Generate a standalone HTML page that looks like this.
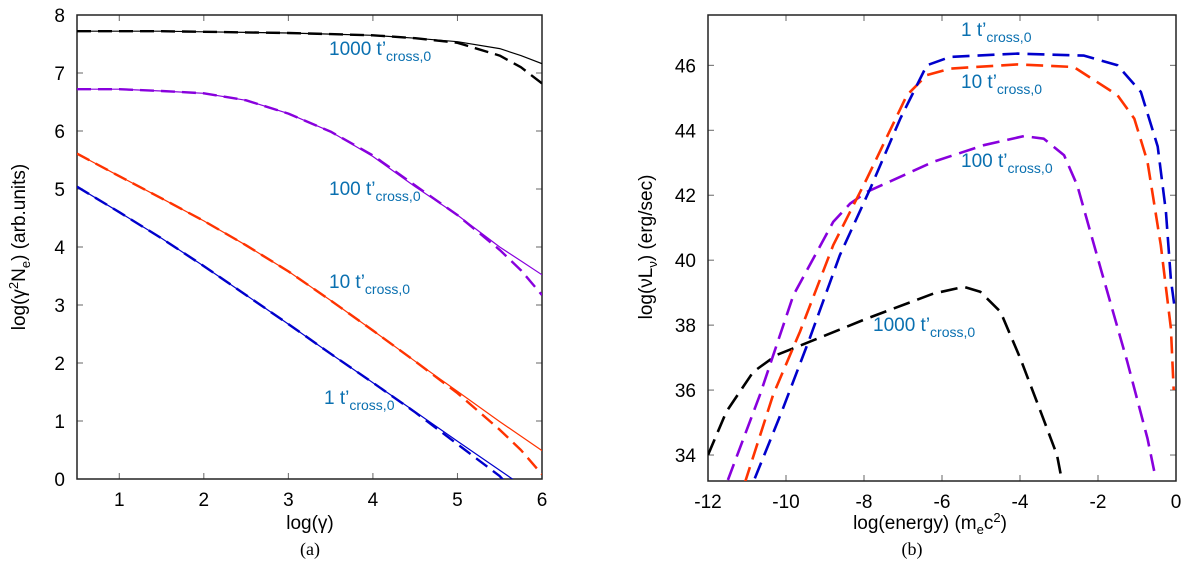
<!DOCTYPE html>
<html><head><meta charset="utf-8"><style>
html,body{margin:0;padding:0;background:#fff}
svg{display:block;font-family:"Liberation Sans",sans-serif}
</style></head><body>
<svg id="c" width="1200" height="573" viewBox="0 0 1200 573"></svg>
<script>
// Left panel data
const gX = [0.5,1,1.5,2,2.5,3,3.5,4,4.5,5,5.5,5.75,6];
const blackSolid = [7.72,7.72,7.72,7.71,7.70,7.69,7.67,7.65,7.6,7.54,7.42,7.3,7.16];
const blackDash  = [7.72,7.72,7.72,7.71,7.70,7.69,7.67,7.65,7.6,7.52,7.3,7.1,6.82];
const purpleSolid= [6.72,6.72,6.69,6.65,6.53,6.3,5.99,5.56,5.04,4.55,4.0,3.76,3.52];
const purpleDash = [6.72,6.72,6.69,6.65,6.53,6.3,5.99,5.58,5.06,4.55,3.95,3.6,3.17];
const redSolid   = [5.61,5.22,4.84,4.45,4.03,3.58,3.08,2.56,2.03,1.51,0.99,0.74,0.49];
const redDash    = [5.61,5.22,4.84,4.45,4.03,3.58,3.08,2.56,2.03,1.48,0.85,0.5,0.08];
const blueSolid  = [5.04,4.6,4.15,3.67,3.17,2.67,2.16,1.66,1.16,0.65,0.15,-0.1,-0.35];
const blueDash   = [5.04,4.6,4.15,3.67,3.17,2.67,2.16,1.66,1.15,0.6,0.05,-0.35,-0.75];
const leftXTicks = [1,2,3,4,5,6];
const leftYTicks = [0,1,2,3,4,5,6,7,8];
// Right panel data
const bluePts   = [[-10.8,33.28],[-10.11,35.33],[-9.39,37.6],[-8.62,40.15],[-7.84,42.2],[-7.07,44.36],[-6.39,46.0],[-5.79,46.26],[-4.07,46.36],[-2.36,46.3],[-1.5,46.0],[-0.9,45.18],[-0.47,43.5],[-0.26,41.5],[-0.13,39.4],[-0.03,38.5]];
const redPts    = [[-11.06,33.13],[-10.33,35.85],[-9.64,37.8],[-8.79,40.46],[-7.93,42.5],[-6.9,45.08],[-6.39,45.7],[-5.79,45.9],[-4.07,46.03],[-2.62,45.95],[-1.5,45.08],[-1.07,44.36],[-0.73,43.03],[-0.39,40.46],[-0.13,37.9],[-0.06,36.0]];
const purplePts = [[-11.49,33.23],[-10.67,35.85],[-9.81,38.92],[-8.79,41.18],[-8.36,41.74],[-7.93,42.1],[-6.22,43.03],[-4.93,43.54],[-3.9,43.82],[-3.39,43.74],[-2.87,43.23],[-2.53,42.3],[-1.93,39.74],[-1.25,36.87],[-0.73,34.51],[-0.52,33.28]];
const blackPts  = [[-12,34.0],[-11.53,35.33],[-10.84,36.56],[-10.24,37.08],[-9.39,37.49],[-7.93,38.2],[-6.22,38.97],[-5.44,39.18],[-5.02,39.03],[-4.5,38.41],[-3.99,36.97],[-3.47,35.33],[-3.05,34.0],[-2.92,33.18]];
const rightXTicks = [-12,-10,-8,-6,-4,-2,0];
const rightYTicks = [34,36,38,40,42,44,46];

const NS="http://www.w3.org/2000/svg";
const svg=document.getElementById('c');
function mk(t,a,p){const e=document.createElementNS(NS,t);for(const k in a)e.setAttribute(k,a[k]);(p||svg).appendChild(e);return e;}

const L={x0:77,x1:542,y0:479,y1:15,xmin:0.5,xmax:6,ymin:0,ymax:8};
const R={x0:708,x1:1176,y0:481,y1:15,xmin:-12,xmax:0,ymin:33.2,ymax:47.55};
function sx(P,v){return P.x0+(v-P.xmin)/(P.xmax-P.xmin)*(P.x1-P.x0);}
function sy(P,v){return P.y0-(v-P.ymin)/(P.ymax-P.ymin)*(P.y0-P.y1);}

function clip(id,P){const d=mk('clipPath',{id:id});mk('rect',{x:P.x0,y:P.y1,width:P.x1-P.x0,height:P.y0-P.y1},d);}
clip('cl',L);clip('cr',R);

function frame(P,name,xt,yt){
  const g=mk('g',{});
  
  
  xt.forEach(v=>{const x=sx(P,v);
    mk('line',{x1:x,x2:x,y1:P.y0,y2:P.y0-6,stroke:'#666','stroke-width':1},g);
    mk('line',{x1:x,x2:x,y1:P.y1,y2:P.y1+6,stroke:'#666','stroke-width':1},g);
    const t=mk('text',{x:x,y:P.y0+27,'font-size':19,'text-anchor':'middle'},g);t.textContent=v;
    });
  yt.forEach(v=>{const y=sy(P,v);
    mk('line',{x1:P.x0,x2:P.x0+6,y1:y,y2:y,stroke:'#666','stroke-width':1},g);
    mk('line',{x1:P.x1,x2:P.x1-6,y1:y,y2:y,stroke:'#666','stroke-width':1},g);
    const t=mk('text',{x:P.x0-12,y:y+7,'font-size':19,'text-anchor':'end'},g);t.textContent=v;
    });
  mk('rect',{x:P.x0,y:P.y1,width:P.x1-P.x0,height:P.y0-P.y1,fill:'none',stroke:'#222','stroke-width':1.5},g);
}
frame(L,'left-axes',leftXTicks,leftYTicks);
frame(R,'right-axes',rightXTicks,rightYTicks);

function lineXY(P,xs,ys,color,dash,w,name,cl){
  const d=xs.map((x,i)=>(i?'L':'M')+sx(P,x).toFixed(1)+','+sy(P,ys[i]).toFixed(1)).join('');
  const p=mk('path',{d:d,fill:'none',stroke:color,'stroke-width':w,'clip-path':'url(#'+cl+')','stroke-dasharray':dash||'none','stroke-linejoin':'round'});
  
  
}
const C={blue:'#0000cc',red:'#ff3300',purple:'#8800dd',black:'#000'};
lineXY(L,gX,blackSolid,C.black,null,1.2,'black-solid-line','cl');
lineXY(L,gX,blackDash,C.black,'14,7',2.4,'black-dashed-line','cl');
lineXY(L,gX,purpleSolid,C.purple,null,1.2,'purple-solid-line','cl');
lineXY(L,gX,purpleDash,C.purple,'14,7',2.4,'purple-dashed-line','cl');
lineXY(L,gX,redSolid,C.red,null,1.2,'red-solid-line','cl');
lineXY(L,gX,redDash,C.red,'14,7',2.4,'red-dashed-line','cl');
lineXY(L,gX,blueSolid,C.blue,null,1.2,'blue-solid-line','cl');
lineXY(L,gX,blueDash,C.blue,'14,7',2.4,'blue-dashed-line','cl');

function pts(P,arr,color,name){lineXY(P,arr.map(a=>a[0]),arr.map(a=>a[1]),color,'17,8',2.6,name,'cr');}
pts(R,blackPts,C.black,'black-sed-line');
pts(R,purplePts,C.purple,'purple-sed-line');
pts(R,redPts,C.red,'red-sed-line');
pts(R,bluePts,C.blue,'blue-sed-line');
</script>
<svg width="1200" height="573" style="position:absolute;left:0;top:0" font-family="Liberation Sans, sans-serif">
<g fill="#0a70b0" font-size="19">
<text x="329" y="55">1000 t’<tspan font-size="14" dy="6">cross,0</tspan></text>
<text x="329" y="195">100 t’<tspan font-size="14" dy="6">cross,0</tspan></text>
<text x="329" y="288">10 t’<tspan font-size="14" dy="6">cross,0</tspan></text>
<text x="324" y="404">1 t’<tspan font-size="14" dy="6">cross,0</tspan></text>
<text x="961" y="36">1 t’<tspan font-size="14" dy="6">cross,0</tspan></text>
<text x="961" y="88">10 t’<tspan font-size="14" dy="6">cross,0</tspan></text>
<text x="961" y="167">100 t’<tspan font-size="14" dy="6">cross,0</tspan></text>
<text x="873" y="331">1000 t’<tspan font-size="14" dy="6">cross,0</tspan></text>
</g>
<text x="310" y="529" font-size="19" text-anchor="middle">log(γ)</text>
<text x="310" y="555" font-size="18" text-anchor="middle" font-family="Liberation Serif, serif">(a)</text>
<text transform="translate(25,247) rotate(-90)" font-size="19" text-anchor="middle">log(γ<tspan font-size="13" dy="-7">2</tspan><tspan dy="7">N</tspan><tspan font-size="13" dy="5">e</tspan><tspan dy="-5">) (arb.units)</tspan></text>
<text x="930" y="529" font-size="19" text-anchor="middle">log(energy) (m<tspan font-size="13" dy="5">e</tspan><tspan dy="-5">c</tspan><tspan font-size="13" dy="-7">2</tspan><tspan dy="7">)</tspan></text>
<text x="912" y="555" font-size="18" text-anchor="middle" font-family="Liberation Serif, serif">(b)</text>
<text transform="translate(652,247) rotate(-90)" font-size="19" text-anchor="middle">log(νL<tspan font-size="13" dy="5">ν</tspan><tspan dy="-5">) (erg/sec)</tspan></text>
</svg>
</body></html>
